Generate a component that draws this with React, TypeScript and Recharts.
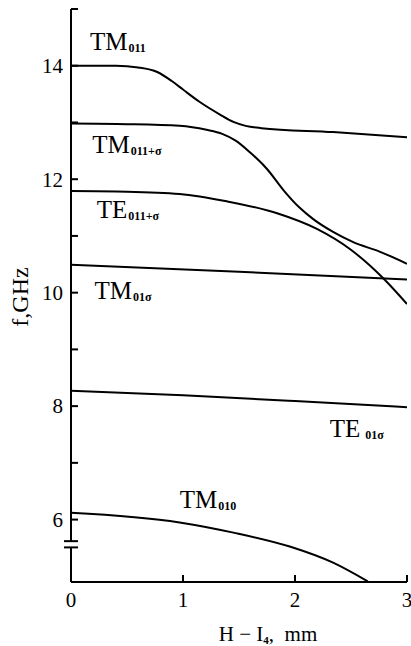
import React from 'react';
import { LineChart, Line, XAxis, YAxis, ReferenceDot } from 'recharts';

// f (GHz) against H - I4 (mm)
const tm011 = [
  { h: 0, f: 14.0 }, { h: 0.4, f: 14.0 }, { h: 0.6, f: 13.97 }, { h: 0.77, f: 13.89 },
  { h: 0.9, f: 13.73 }, { h: 1.0, f: 13.58 }, { h: 1.15, f: 13.36 }, { h: 1.33, f: 13.14 },
  { h: 1.45, f: 13.01 }, { h: 1.56, f: 12.94 }, { h: 1.7, f: 12.9 }, { h: 2.34, f: 12.83 },
  { h: 3.0, f: 12.74 },
];
const tm011s = [
  { h: 0, f: 12.98 }, { h: 0.5, f: 12.97 }, { h: 0.97, f: 12.94 }, { h: 1.21, f: 12.87 },
  { h: 1.35, f: 12.8 }, { h: 1.47, f: 12.68 }, { h: 1.6, f: 12.47 }, { h: 1.75, f: 12.18 },
  { h: 1.9, f: 11.8 }, { h: 2.04, f: 11.5 }, { h: 2.16, f: 11.3 }, { h: 2.34, f: 11.07 },
  { h: 2.52, f: 10.89 }, { h: 2.76, f: 10.72 }, { h: 3.0, f: 10.51 },
];
const te011s = [
  { h: 0, f: 11.79 }, { h: 0.5, f: 11.78 }, { h: 0.97, f: 11.74 }, { h: 1.39, f: 11.61 },
  { h: 1.84, f: 11.4 }, { h: 2.2, f: 11.12 }, { h: 2.49, f: 10.77 }, { h: 2.79, f: 10.25 },
  { h: 3.0, f: 9.8 },
];
const tm01s = [{ h: 0, f: 10.49 }, { h: 1.5, f: 10.37 }, { h: 3.0, f: 10.23 }];
const te01s = [{ h: 0, f: 8.27 }, { h: 1, f: 8.19 }, { h: 2, f: 8.09 }, { h: 3, f: 7.98 }];
const tm010 = [
  { h: 0, f: 6.12 }, { h: 0.97, f: 5.95 }, { h: 1.45, f: 5.77 }, { h: 1.96, f: 5.52 },
  { h: 2.34, f: 5.24 }, { h: 2.65, f: 4.91 },
];

const series = [tm011, tm011s, te011s, tm01s, te01s, tm010];

const modeLabels = [
  { h: 0.17, f: 14.28, main: 'TM', sub: '011', gap: 0 },
  { h: 0.19, f: 12.47, main: 'TM', sub: '011+σ', gap: 0 },
  { h: 0.23, f: 11.32, main: 'TE', sub: '011+σ', gap: 0 },
  { h: 0.21, f: 9.88, main: 'TM', sub: '01σ', gap: 0 },
  { h: 2.31, f: 7.45, main: 'TE', sub: '01σ', gap: 4 },
  { h: 0.97, f: 6.21, main: 'TM', sub: '010', gap: 0 },
];

const xTicks = [0, 1, 2, 3];
const yMajor = [6, 8, 10, 12, 14];
const yMinor = [7, 9, 11, 13, 15];
const yBreak = [5.62, 5.51];

const SERIF = '"Liberation Serif", "DejaVu Serif", serif';

const YTick = (props: any) => {
  const { x, y, payload } = props;
  const v = payload.value;
  if (yBreak.includes(v)) {
    const isTop = v === yBreak[0];
    return (
      <g>
        {isTop && <rect x={x - 3} y={y} width={6} height={6} fill="#fff" />}
        <line x1={x - 7} x2={x + 7} y1={y} y2={y} stroke="#000" strokeWidth={2} />
      </g>
    );
  }
  const labelled = yMajor.includes(v);
  return (
    <g>
      <line x1={x} x2={x + 7} y1={y} y2={y} stroke="#000" strokeWidth={2} />
      {labelled && (
        <text x={x - 8} y={y} dy="0.35em" textAnchor="end" fontFamily={SERIF} fontSize={21} fill="#000">
          {v}
        </text>
      )}
    </g>
  );
};

const XTick = (props: any) => {
  const { x, y, payload } = props;
  return (
    <g>
      {payload.value !== 0 && <line x1={x} x2={x} y1={y} y2={y - 7} stroke="#000" strokeWidth={2} />}
      <text x={x} y={y + 25} textAnchor="middle" fontFamily={SERIF} fontSize={21} fill="#000">
        {payload.value}
      </text>
    </g>
  );
};

const ModeLabel = (props: any) => {
  const { viewBox, main, sub, gap } = props;
  if (!viewBox) return null;
  return (
    <text x={viewBox.x} y={viewBox.y} fontFamily={SERIF} fill="#000">
      <tspan fontSize={25}>{main}</tspan>
      <tspan fontSize={12} fontWeight="bold" dx={gap + 1} dy={2}>{sub}</tspan>
    </text>
  );
};

export default function App() {
  return (
    <div style={{ position: 'absolute', left: 0, top: 0, background: '#fff' }}>
      <LineChart width={411} height={646} margin={{ top: 9, right: 4, bottom: 34, left: 0 }}>
        <XAxis
          type="number"
          dataKey="h"
          domain={[0, 3]}
          ticks={xTicks}
          interval={0}
          height={30}
          tickSize={0}
          tickMargin={0}
          tickLine={false}
          axisLine={{ stroke: '#000', strokeWidth: 2 }}
          tick={<XTick />}
          allowDataOverflow
        />
        <YAxis
          type="number"
          dataKey="f"
          domain={[4.9, 15]}
          ticks={[...yBreak, ...yMajor, ...yMinor]}
          interval={0}
          width={71}
          tickSize={0}
          tickMargin={0}
          tickLine={false}
          axisLine={{ stroke: '#000', strokeWidth: 2 }}
          tick={<YTick />}
          allowDataOverflow
        />
        {series.map((d, i) => (
          <Line
            key={i}
            data={d}
            dataKey="f"
            type="monotone"
            stroke="#000"
            strokeWidth={2}
            dot={false}
            isAnimationActive={false}
          />
        ))}
        {modeLabels.map((m, i) => (
          <ReferenceDot
            key={`lbl-${i}`}
            x={m.h}
            y={m.f}
            r={0}
            fill="none"
            stroke="none"
            ifOverflow="visible"
            label={<ModeLabel main={m.main} sub={m.sub} gap={m.gap} />}
          />
        ))}
      </LineChart>
      <svg width={411} height={646} style={{ position: 'absolute', left: 0, top: 0, pointerEvents: 'none' }}>
        <text
          x={20}
          y={297}
          transform="rotate(-90 20 297)"
          textAnchor="middle"
          dominantBaseline="central"
          fontFamily={SERIF}
          fontSize={24}
          fill="#000"
        >
          f,GHz
        </text>
        <text x={268} y={641} textAnchor="middle" fontFamily={SERIF} fontSize={21} fill="#000">
          {'H\u00a0\u2212\u00a0I'}
          <tspan fontSize={11} fontWeight="bold" dy={3}>4</tspan>
          <tspan dy={-3}>{',\u00a0\u00a0mm'}</tspan>
        </text>
      </svg>
    </div>
  );
}
